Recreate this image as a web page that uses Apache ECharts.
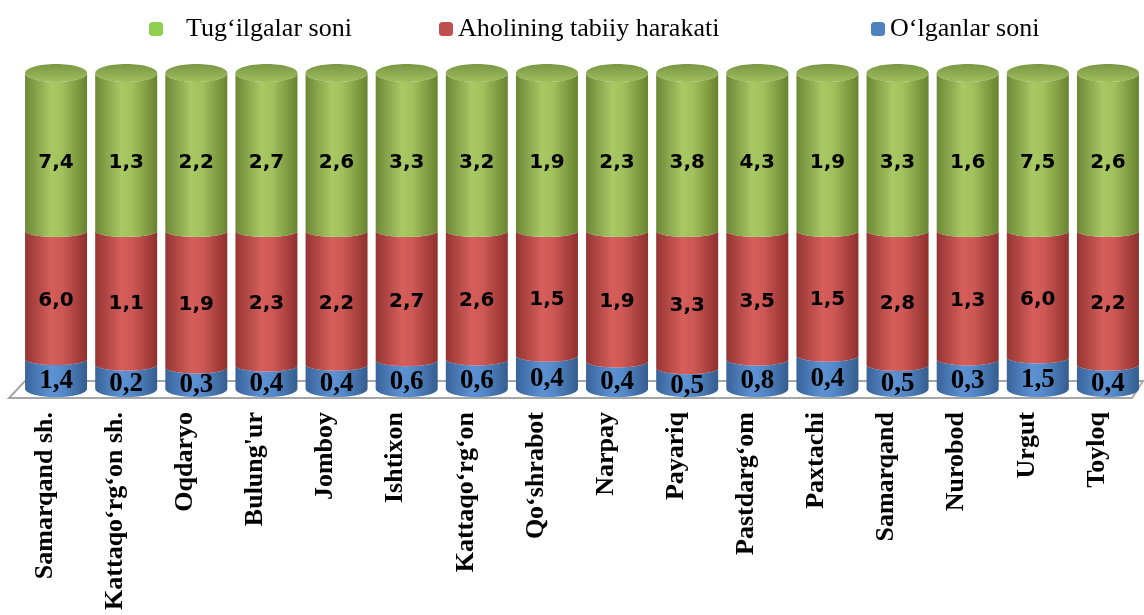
<!DOCTYPE html>
<html lang="uz" style="background: #FFFFFF;height: 100%">
<head>
  <meta charset="utf-8" />
  <title>Tug‘ilgalar, o‘lganlar va tabiiy harakat</title>
  <script src="https://cdn.jsdelivr.net/npm/echarts@6/dist/echarts.min.js"></script>
</head>
<body style="margin: 0;height: 100%">
<div id="chart" style="width: 1144px;height: 615px"></div>
<script>
  // tumanlar
  const districts = ['Samarqand sh.', 'Kattaqo‘rg‘on sh.', 'Oqdaryo', 'Bulung\'ur', 'Jomboy', 'Ishtixon',
    'Kattaqo‘rg‘on', 'Qo‘shrabot', 'Narpay', 'Payariq', 'Pastdarg‘om', 'Paxtachi', 'Samarqand',
    'Nurobod', 'Urgut', 'Toyloq'];
  const births = [7.4, 1.3, 2.2, 2.7, 2.6, 3.3, 3.2, 1.9, 2.3, 3.8, 4.3, 1.9, 3.3, 1.6, 7.5, 2.6];
  const natural = [6.0, 1.1, 1.9, 2.3, 2.2, 2.7, 2.6, 1.5, 1.9, 3.3, 3.5, 1.5, 2.8, 1.3, 6.0, 2.2];
  const deaths = [1.4, 0.2, 0.3, 0.4, 0.4, 0.6, 0.6, 0.4, 0.4, 0.5, 0.8, 0.4, 0.5, 0.3, 1.5, 0.4];

  const NAME_B = 'Tug‘ilgalar soni';
  const NAME_N = 'Aholining tabiiy harakati';
  const NAME_D = 'O‘lganlar soni';

  const DX = 11;       // silindrlar yozuvlardan o'ngroqda
  const fmt = v => v.toFixed(1).replace('.', ',');
  const ry = p => (p >= 99.9 ? 9 : p <= 0.1 ? 8 : 6);

  // 100% yig'ma: [indeks, past, yuqori, qiymat]
  const stackRows = (vals, below) => vals.map((v, i) => {
    const tot = births[i] + natural[i] + deaths[i];
    const lo = below.reduce((s, arr) => s + arr[i], 0) / tot * 100;
    return [i, lo, Math.min(100, lo + v / tot * 100), v];
  });

  function cylinder(side, labelFont, withCap) {
    return function (params, api) {
      const i = api.value(0), lo = api.value(1), hi = api.value(2), v = api.value(3);
      const pb = api.coord([i, lo]), pt = api.coord([i, hi]);
      const w = api.size([1, 0])[0] * 0.884;
      const cx = pb[0] + DX, rx = w / 2;
      const L = cx - rx, R = cx + rx, yb = pb[1], yt = pt[1];
      const rb = ry(lo), rt = ry(hi);
      const d = 'M' + L + ' ' + yt + 'L' + L + ' ' + yb +
        'A' + rx + ' ' + rb + ' 0 0 0 ' + R + ' ' + yb +
        'L' + R + ' ' + yt +
        'A' + rx + ' ' + rt + ' 0 0 1 ' + L + ' ' + yt + 'Z';
      const kids = [{
        type: 'path',
        shape: { pathData: d },
        style: {
          fill: new echarts.graphic.LinearGradient(0, 0, 1, 0, [
            { offset: 0, color: side[0] },
            { offset: 0.42, color: side[1] },
            { offset: 0.6, color: side[2] },
            { offset: 1, color: side[3] }
          ])
        }
      }];
      if (withCap) {
        kids.push({
          type: 'ellipse',
          shape: { cx: cx, cy: yt, rx: rx, ry: rt },
          style: {
            fill: new echarts.graphic.LinearGradient(0, 0, 0, 1, [
              { offset: 0, color: '#7A9744' },
              { offset: 1, color: '#9EBF5E' }
            ])
          }
        });
      }
      kids.push({
        type: 'text',
        z2: 10,
        style: {
          text: fmt(v),
          x: cx,
          y: (yt + yb) / 2 + (rt + rb) / 2 + (withCap ? 3 : 0),
          align: 'center',
          verticalAlign: 'middle',
          font: labelFont,
          fill: '#000'
        }
      });
      return { type: 'group', children: kids };
    };
  }

  const chart = echarts.init(document.getElementById('chart'));
  const legendBase = {
    orient: 'horizontal', top: 16, padding: 0, icon: 'roundRect',
    itemWidth: 14, itemHeight: 14,
    textStyle: { fontFamily: 'Liberation Serif', fontSize: 26, color: '#000' }
  };

  chart.setOption({
    animation: false,
    legend: [
      Object.assign({}, legendBase, { data: [NAME_B], left: 149,
        textStyle: Object.assign({}, legendBase.textStyle, { padding: [0, 0, 0, 18] }) }),
      Object.assign({}, legendBase, { data: [NAME_N], left: 439 }),
      Object.assign({}, legendBase, { data: [NAME_D], left: 871 })
    ],
    graphic: [{
      type: 'polygon',
      z: 0,
      shape: { points: [[9, 398], [1132, 398], [1143, 381], [25, 381]] },
      style: { fill: '#FFFFFF', stroke: '#A6A6A6', lineWidth: 2 }
    }],
    grid: { left: 10, right: 12, top: 73, bottom: 226 },
    xAxis: {
      type: 'category',
      data: districts,
      axisLine: { show: false },
      axisTick: { show: false },
      axisLabel: {
        interval: 0, rotate: 90, margin: 23,
        fontFamily: 'Liberation Serif', fontWeight: 'bold', fontSize: 26, color: '#000'
      }
    },
    yAxis: { type: 'value', min: 0, max: 100, show: false },
    series: [
      {
        name: NAME_D, type: 'custom', color: '#4F81BD', z: 3,
        encode: { x: 0, y: [1, 2] },
        renderItem: cylinder(['#39639A', '#5D92D4', '#5489CA', '#355D8E'], 'bold 27px "Liberation Serif"', false),
        data: stackRows(deaths, [])
      },
      {
        name: NAME_N, type: 'custom', color: '#C0504D', z: 3,
        encode: { x: 0, y: [1, 2] },
        renderItem: cylinder(['#953533', '#D65E5B', '#CE5855', '#8F302E'], 'bold 20px "DejaVu Sans"', false),
        data: stackRows(natural, [deaths])
      },
      {
        name: NAME_B, type: 'custom', color: '#8FCF50', z: 3,
        encode: { x: 0, y: [1, 2] },
        renderItem: cylinder(['#6C8836', '#A8C964', '#A0C15C', '#68832F'], 'bold 20px "DejaVu Sans"', true),
        data: stackRows(births, [deaths, natural])
      }
    ]
  });

  window.addEventListener('resize', () => chart.resize());
</script>
</body>
</html>
